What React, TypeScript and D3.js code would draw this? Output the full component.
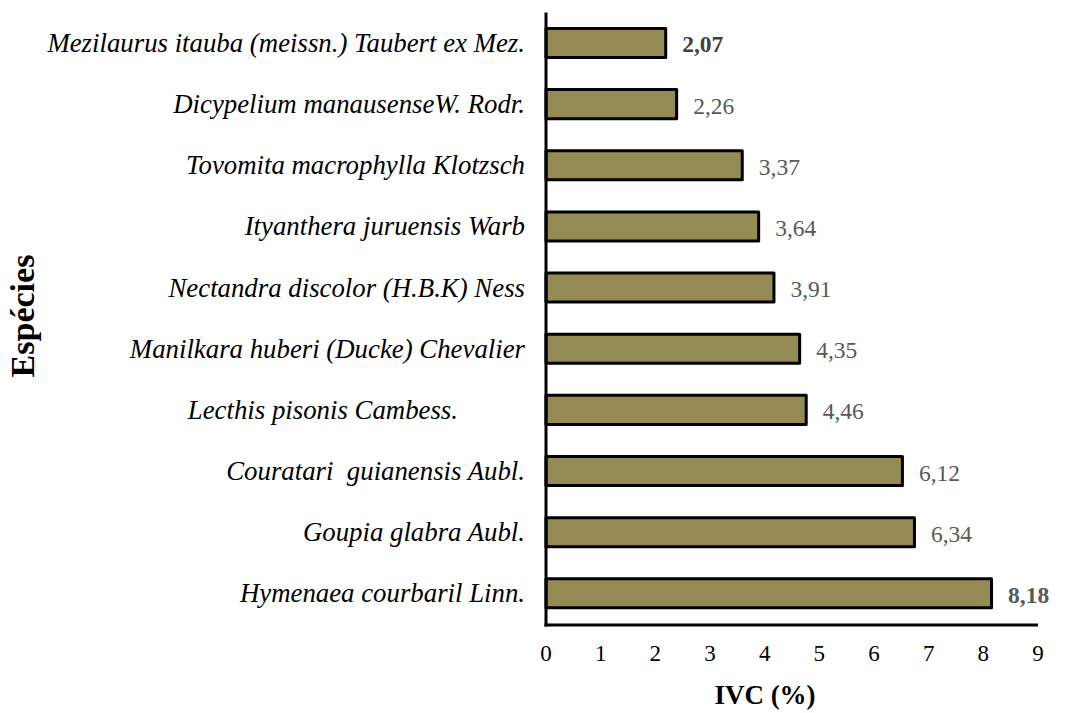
import React from "react";
import * as d3 from "d3";

// Species (top to bottom as displayed)
const species: string[] = [
  "Mezilaurus itauba (meissn.) Taubert ex Mez.",
  "Dicypelium manausenseW. Rodr.",
  "Tovomita macrophylla Klotzsch",
  "Ityanthera juruensis Warb",
  "Nectandra discolor (H.B.K) Ness",
  "Manilkara huberi (Ducke) Chevalier",
  "Lecthis pisonis Cambess.          ",
  "Couratari  guianensis Aubl.",
  "Goupia glabra Aubl.",
  "Hymenaea courbaril Linn.",
];

// Bar lengths as drawn in the picture
const barValues: number[] = [2.19, 2.39, 3.59, 3.89, 4.17, 4.64, 4.76, 6.52, 6.74, 8.15];

// Data labels as printed next to the bars
const valueLabels: string[] = ["2,07", "2,26", "3,37", "3,64", "3,91", "4,35", "4,46", "6,12", "6,34", "8,18"];
const boldLabels: boolean[] = [true, false, false, false, false, false, false, false, false, true];

const xTicks: number[] = [0, 1, 2, 3, 4, 5, 6, 7, 8, 9];

const xTitle = "IVC (%)";
const yTitle = "Espécies";

export default function App() {
  const W = 1086;
  const H = 713;
  const x0 = 546;
  const x1 = 1038;
  const yTop = 12.4;
  const yBot = 623.9;
  const axisY = 625;

  const x = d3.scaleLinear().domain([0, 9]).range([x0, x1]);
  const y = d3
    .scaleBand<string>()
    .domain(species)
    .range([yTop, yBot])
    .paddingInner(0.525)
    .paddingOuter(0.2625);

  const font = "'Liberation Serif', 'Times New Roman', serif";

  return (
    <svg
      width={W}
      height={H}
      style={{ position: "absolute", left: 0, top: 0, background: "#fff" }}
      fontFamily={font}
    >
      {species.map((s, i) => {
        const yy = y(s)!;
        const bw = y.bandwidth();
        const cy = yy + bw / 2;
        return (
          <g key={s}>
            <rect
              x={x(0)}
              y={yy}
              width={x(barValues[i]) - x(0)}
              height={bw}
              fill="#948A54"
              stroke="#000"
              strokeWidth={3}
              strokeLinejoin="round"
            />
            <text
              x={525}
              y={cy + 9}
              textAnchor="end"
              fontStyle="italic"
              fontSize={26.8}
              fill="#000"
              style={{ whiteSpace: "pre" }}
            >
              {s}
            </text>
            <text
              x={x(barValues[i]) + 16.5}
              y={cy + 9.5}
              fontSize={23.5}
              fontWeight={boldLabels[i] ? "bold" : "normal"}
              fill={i === 0 ? "#404040" : "#595959"}
            >
              {valueLabels[i]}
            </text>
          </g>
        );
      })}

      {/* axes */}
      <line x1={x0} x2={x0} y1={yTop} y2={axisY + 1.5} stroke="#000" strokeWidth={3} />
      <line x1={x0 - 1.5} x2={x1} y1={axisY} y2={axisY} stroke="#000" strokeWidth={3} />

      {xTicks.map((t) => (
        <text key={t} x={x(t)} y={661} textAnchor="middle" fontSize={23} fill="#000">
          {t}
        </text>
      ))}

      <text x={765} y={704} textAnchor="middle" fontSize={27} fontWeight="bold" fill="#000">
        {xTitle}
      </text>
      <text
        transform={`translate(34,316) rotate(-90)`}
        textAnchor="middle"
        fontSize={34}
        fontWeight="bold"
        fill="#000"
      >
        {yTitle}
      </text>
    </svg>
  );
}
